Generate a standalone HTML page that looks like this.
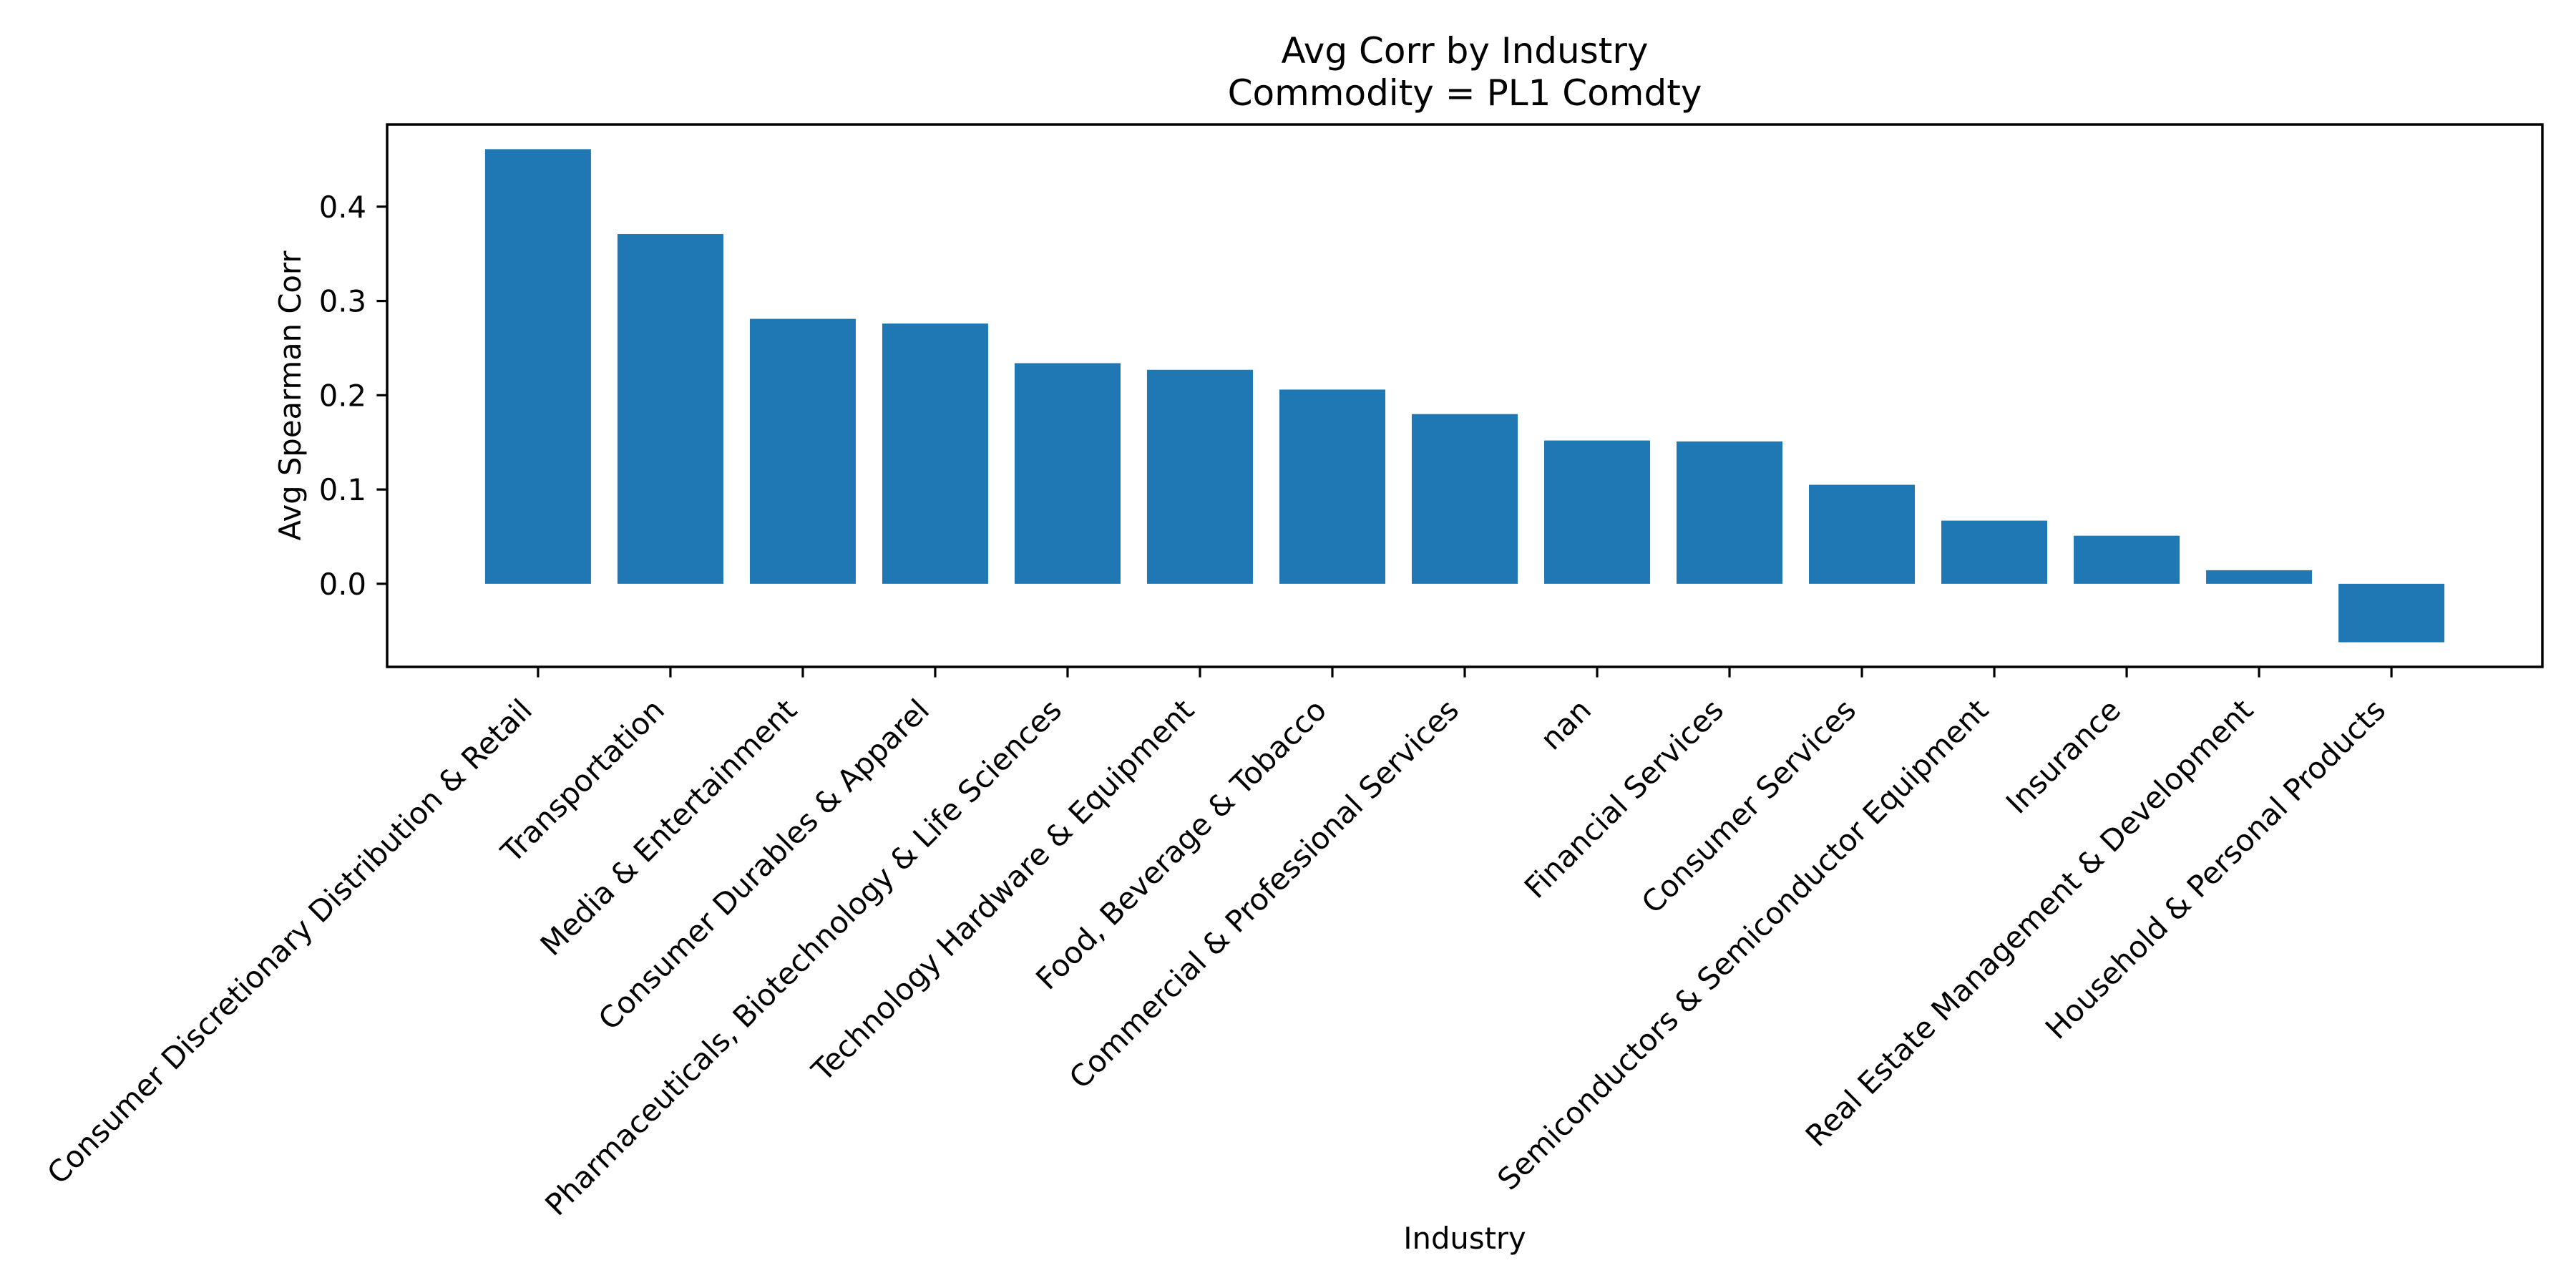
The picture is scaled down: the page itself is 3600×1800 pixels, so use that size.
<!DOCTYPE html>
<html><head><meta charset="utf-8"><style>
html,body{margin:0;padding:0;background:#fff}
svg{display:block;font-family:"DejaVu Sans","Liberation Sans",sans-serif}
</style></head><body>
<svg id="chart" width="3600" height="1800" viewBox="0 0 3600 1800" xmlns="http://www.w3.org/2000/svg">
<rect x="0" y="0" width="3600" height="1800" fill="#fff"/>
<text x="2047" y="88" font-size="50" text-anchor="middle">Avg Corr by Industry</text>
<text x="2047" y="147" font-size="50" text-anchor="middle">Commodity = PL1 Comdty</text>
<g id="bars"></g>
<g id="yticks"></g>
<g id="xticks"></g>
<rect x="541" y="174" width="3012" height="758" fill="none" stroke="#000" stroke-width="3.5"/>
<text transform="translate(420,553) rotate(-90)" font-size="41.7" text-anchor="middle">Avg Spearman Corr</text>
<text x="2047" y="1745" font-size="41.7" text-anchor="middle">Industry</text>
</svg>
<script>
const categories = ["Consumer Discretionary Distribution & Retail","Transportation","Media & Entertainment","Consumer Durables & Apparel","Pharmaceuticals, Biotechnology & Life Sciences","Technology Hardware & Equipment","Food, Beverage & Tobacco","Commercial & Professional Services","nan","Financial Services","Consumer Services","Semiconductors & Semiconductor Equipment","Insurance","Real Estate Management & Development","Household & Personal Products"];
const values = [0.461,0.371,0.281,0.276,0.234,0.227,0.206,0.180,0.152,0.151,0.105,0.067,0.051,0.0144,-0.062];
const yTickValues = [0.0,0.1,0.2,0.3,0.4];
const yTickLabels = ["0.0","0.1","0.2","0.3","0.4"];

const NS = "http://www.w3.org/2000/svg";
const X0 = 541, X1 = 3553, Y0 = 174, Y1 = 932;
const n = categories.length;
const dMin = Math.min(0, ...values), dMax = Math.max(0, ...values);
const yr = dMax - dMin;
const yLo = dMin - 0.05 * yr, yHi = dMax + 0.05 * yr;
const xLo = -0.4 - 0.05 * (n - 1 + 0.8), xHi = n - 1 + 0.4 + 0.05 * (n - 1 + 0.8);
const xs = i => X0 + (i - xLo) / (xHi - xLo) * (X1 - X0);
const ys = v => Y1 - (v - yLo) / (yHi - yLo) * (Y1 - Y0);
const bw = xs(0.8) - xs(0);

const gb = document.getElementById('bars');
values.forEach((v, i) => {
  const r = document.createElementNS(NS, 'rect');
  const top = ys(Math.max(v, 0)), bot = ys(Math.min(v, 0));
  r.setAttribute('x', xs(i) - bw / 2);
  r.setAttribute('y', top);
  r.setAttribute('width', bw);
  r.setAttribute('height', bot - top);
  r.setAttribute('fill', '#1f77b4');
  
  
  gb.appendChild(r);
});

const gy = document.getElementById('yticks');
yTickValues.forEach((v, i) => {
  const y = ys(v);
  const l = document.createElementNS(NS, 'line');
  l.setAttribute('x1', X0 - 14.6); l.setAttribute('x2', X0);
  l.setAttribute('y1', y); l.setAttribute('y2', y);
  l.setAttribute('stroke', '#000'); l.setAttribute('stroke-width', '3.2');
  
  
  gy.appendChild(l);
  const t = document.createElementNS(NS, 'text');
  t.setAttribute('x', X0 - 29); t.setAttribute('y', y + 15);
  t.setAttribute('font-size', '41.7'); t.setAttribute('text-anchor', 'end');
  t.textContent = yTickLabels[i];
  
  
  gy.appendChild(t);
});

const gx = document.getElementById('xticks');
categories.forEach((c, i) => {
  const x = xs(i);
  const l = document.createElementNS(NS, 'line');
  l.setAttribute('x1', x); l.setAttribute('x2', x);
  l.setAttribute('y1', Y1); l.setAttribute('y2', Y1 + 14.6);
  l.setAttribute('stroke', '#000'); l.setAttribute('stroke-width', '3.2');
  
  
  gx.appendChild(l);
  const t = document.createElementNS(NS, 'text');
  t.setAttribute('transform', 'translate(' + (x - 6) + ',995) rotate(-45)');
  t.setAttribute('font-size', '41.7'); t.setAttribute('text-anchor', 'end');
  t.textContent = c;
  
  
  gx.appendChild(t);
});
</script>
</body></html>
